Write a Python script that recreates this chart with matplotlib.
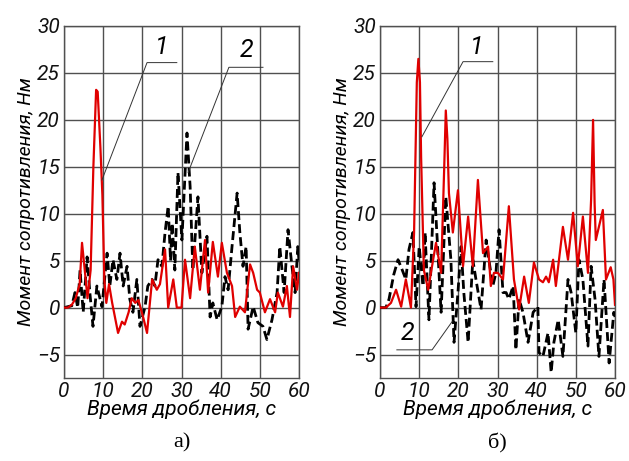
import matplotlib
matplotlib.use("Agg")
import matplotlib.pyplot as plt

# ---------------- data ----------------
a_red_t = [0, 1, 2, 3, 4, 4.6, 5.3, 6, 6.8, 7.5, 8.2, 8.6, 9.3, 9.8, 10.3, 10.8, 11.5, 12.3, 13.8, 14.8, 15.5,
           16.5, 17.3, 18.2, 19, 20.2, 21.2, 22.5, 23.7, 24.5, 25.8, 26.6, 27.9, 28.8, 30, 30.9, 32.2, 33.4,
           34.7, 36, 36.8, 38, 39.3, 40.3, 41.6, 42.9, 43.7, 44.9, 46.2, 47.5, 48.3, 49.3, 50, 51.3, 52.6,
           53.9, 54.6, 55.9, 56.9, 57.7, 58.5, 59.5, 60]
a_red_m = [0, 0, 0.3, 1, 2.5, 6.9, 4, 1, 4, 15, 23.2, 23, 17, 12, 3, 0.5, 2.5, 0.5, -2.7, -1.5, -1.8,
           -0.5, 1, 0.5, 0.8, -1, -2.7, 3, 1.9, 2.5, 6.2, 0, 3, 0, 0, 5.1, 1, 6.5,
           1.9, 7.2, 1.6, 7, 3.3, 6.9, 3.7, 2.3, -1, 0.1, -0.5, 4.6, 3.7, 1.9, 1.6, -0.5, 0.9,
           -0.5, 1.6, 0.1, 2.3, -1, 4.4, 1.9, 3.7]

a_blk_t = [0, 2, 2.8, 3.5, 4.1, 4.9, 5.9, 6.6, 7.4, 8.4, 9.7, 11, 11.7, 12.5, 13.5, 14.3, 15.1, 16.1, 16.8,
           17.6, 18.6, 19.4, 20.7, 21.4, 22.5, 23.2, 24, 25, 25.8, 26.6, 27.2, 27.6, 28.3, 29.1, 30.1,
           31.4, 32.2, 32.9, 34.2, 35.2, 36.5, 37.3, 38, 39.1, 40.3, 41.1, 41.9, 42.9, 44.2, 44.9, 45.7,
           46.5, 47, 48.3, 49.5, 50.8, 51.8, 53.1, 54.4, 55.1, 56.2, 57.2, 58.2, 59, 59.7, 60]
a_blk_m = [0, 0.2, 1.6, 0, 4, -0.5, 5.4, 1.6, -2, 2.3, 0.1, 5.8, 2.3, 5.1, 3, 5.8, 2.3, 4.4, 0.9,
           -0.5, 3, -2, 0.1, 2.3, 3, 2.3, 5.1, 4.4, 8, 10.8, 5, 9, 4, 14.4, 7.2,
           18.6, 12.9, 4, 11.8, 3.7, 7.6, -1, 0.5, -1.3, 0.1, 3.3, 1.9, 6.5, 12.2, 8, 4.4,
           6.5, -2.3, 0.1, -1.6, -2, -3.4, -1.3, 1.6, 6.5, 1.6, 8.3, 4.4, 1.6, 6.5, 5]

b_red_t = [0, 1.5, 2.8, 4.1, 5.4, 6.6, 7.9, 8.7, 9.4, 9.8, 10.2, 10.5, 11.2, 12.3, 13, 14.3, 15.6, 16.4,
           16.8, 17.2, 17.6, 18.6, 19.9, 21.2, 22.5, 23.7, 25, 26.3, 27.6, 28.3, 29.1, 30.1, 31.4, 32.9,
           34.2, 35.5, 36.8, 38, 39.3, 40.6, 41.6, 42.4, 43.1, 44.2, 44.9, 46.7, 48, 49.3, 50.5, 51.8,
           53.1, 53.9, 54.4, 54.8, 55.1, 56.9, 57.7, 58.9, 59.6, 60]
b_red_m = [0, 0, 0.5, 1.9, 0.1, 3, 0, 8, 24, 26.5, 24, 16, 4, 1.9, 3.7, 6.9, 3.7, 15,
           21, 18, 12.2, 8, 12.5, 4.4, 9.7, 4.4, 13.6, 5.8, 6.5, 2.3, 3.7, 3.7, 3, 10.8,
           3, -0.2, 3.3, 0.5, 4.8, 3, 2.7, 3.3, 2.7, 5.1, 2.3, 8.6, 5.1, 10.1, 4.4, 9.7,
           3.7, 11.5, 20, 11, 7.2, 10.4, 3, 4.3, 3, 0.3]

b_blk_t = [0, 1.5, 2.3, 3.5, 4.6, 5.5, 6.6, 7.4, 8.4, 9.2, 10, 11, 11.5, 12.5, 13.8, 14.8, 15.6, 16.8,
           18.1, 18.9, 19.9, 20.7, 21.4, 22.5, 23.7, 24.5, 25.8, 27.1, 27.8, 28.8, 29.6, 30.4, 31.4,
           32.2, 32.9, 34, 34.7, 35.5, 36.5, 37.8, 39.1, 40.3, 40.6, 41.6, 42.9, 43.7, 44.4, 45.5,
           46.7, 48, 48.8, 50, 50.8, 51.8, 53.1, 53.9, 54.9, 55.9, 57.2, 58.5, 59.7, 60]
b_blk_m = [0, 0, 0.9, 3.5, 5.1, 4.2, 3, 6.2, 8, 0.1, 6.5, 2.3, 8, -1.3, 13.3, 5.8, -0.5, 11.8,
           5.1, -3.7, 1.6, 6.5, 1.6, -3.7, 5.1, 3, -0.2, 7.2, 5.1, 2.3, 3.7, 8.3, 1.6,
           1.6, 0.9, 2.3, -4.5, 0.9, -0.5, -3.7, -0.5, 0.1, -4.8, -5.2, -2.7, -6.9, -3.7, -1.3,
           -5.2, 3, 1.6, -2.7, 5.1, 3, -4.1, 4.4, 0.9, -5.2, 3, -5.9, -0.5, -1]

x_ticks = [0, 10, 20, 30, 40, 50, 60]
y_ticks = [-5, 0, 5, 10, 15, 20, 25, 30]
x_label = "Время дробления, с"
y_label = "Момент сопротивления, Нм"
panel_labels = ["а)", "б)"]

# ---------------- style ----------------
FONT = ["Roboto", "DejaVu Sans"]
RED = "#e00000"
GRID = "#505050"

fig = plt.figure(figsize=(6.29, 4.61), dpi=100)
W, H = 629, 461

def px_axes(l, r, t, b):
    return fig.add_axes([l / W, 1 - b / H, (r - l) / W, (b - t) / H])

axes = [px_axes(64, 299, 26, 378), px_axes(380, 615, 26, 378)]
data = [(a_red_t, a_red_m, a_blk_t, a_blk_m), (b_red_t, b_red_m, b_blk_t, b_blk_m)]
centers = [(64 + 299) / 2, (380 + 615) / 2]

for ax, (rt, rm, bt, bm), pl, cx in zip(axes, data, panel_labels, centers):
    ax.plot(bt, bm, color="black", lw=2.0, ls=(0, (3.2, 1.5)), zorder=3)
    ax.plot(rt, rm, color=RED, lw=1.6, zorder=4)
    ax.set_xlim(0, 60)
    ax.set_ylim(-7.5, 30)
    ax.set_xticks(x_ticks)
    ax.set_yticks(y_ticks)
    ax.grid(True, color=GRID, lw=1.0)
    ax.set_axisbelow(True)
    for s in ax.spines.values():
        s.set_color(GRID)
        s.set_linewidth(1.0)
    ax.tick_params(length=0, pad=3)
    for lab in ax.get_xticklabels() + ax.get_yticklabels():
        lab.set_fontfamily(FONT)
        lab.set_fontstyle("italic")
        lab.set_fontsize(15)
        lab.set_color("#111111")
    ax.set_xlabel(x_label, fontfamily=FONT, fontstyle="italic", fontsize=15, labelpad=-1)
    ax.set_ylabel(y_label, fontfamily=FONT, fontstyle="italic", fontsize=14, labelpad=1)
    fig.text(cx / W, 1 - 443 / H, pl, ha="center", va="center",
             fontfamily="Liberation Serif", fontsize=16)

# leader annotations
def leader(ax, txt, tx, ty, xs, ys):
    ax.text(tx, ty, txt, ha="center", va="center", fontfamily=FONT,
            fontstyle="italic", fontsize=18, zorder=5)
    ax.plot(xs, ys, color="#333333", lw=0.7, zorder=5)

leader(axes[0], "1", 25.0, 27.8, [28.8, 21.2, 9.7], [26.1, 26.1, 13.6])
leader(axes[0], "2", 46.7, 27.4, [50.8, 42.1, 31.7], [25.6, 25.6, 14.4])
leader(axes[1], "1", 24.8, 27.8, [28.8, 21.2, 10.7], [26.2, 26.2, 18.2])
leader(axes[1], "2", 7.1, -2.7, [4.3, 13.3, 18.4], [-4.5, -4.5, -1.5])

fig.savefig("out.png", dpi=100)
